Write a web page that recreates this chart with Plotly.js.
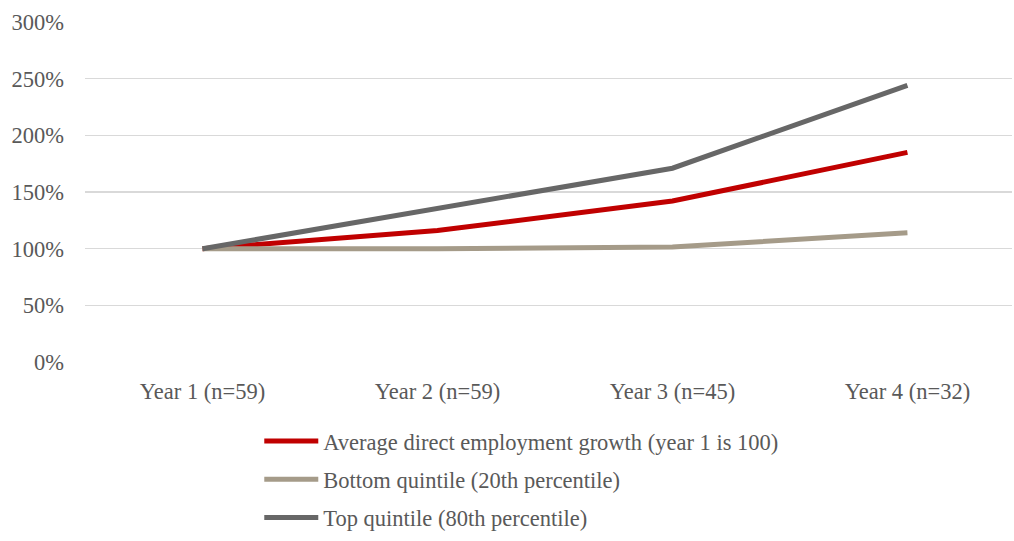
<!DOCTYPE html>
<html>
<head>
<meta charset="utf-8">
<script src="https://cdn.plot.ly/plotly-3.0.1.min.js"></script>
<style>html,body{margin:0;padding:0;background:#fff;}#chart{width:1014px;height:541px;}</style>
</head>
<body>
<div id="chart"></div>
<script>
const categories = ["Year 1 (n=59)", "Year 2 (n=59)", "Year 3 (n=45)", "Year 4 (n=32)"];
const averageGrowth = [1.00, 1.16, 1.42, 1.85];
const bottomQuintile = [1.00, 1.00, 1.015, 1.14];
const topQuintile = [1.00, 1.36, 1.71, 2.44];
const seriesNames = [
  "Average direct employment growth (year 1 is 100)",
  "Bottom quintile (20th percentile)",
  "Top quintile (80th percentile)"
];
const yTicks = [0, 0.5, 1, 1.5, 2, 2.5, 3];
const yTickLabels = ["0%", "50%", "100%", "150%", "200%", "250%", "300%"];

const xIdx = categories.map((_, i) => i);
const font = "Liberation Serif, Times New Roman, serif";
const textColor = "#595959";

const traces = [
  {x: xIdx, y: averageGrowth, name: seriesNames[0], legendgroup: "a", mode: "lines", line: {color: "#C00000", width: 5}},
  {x: xIdx, y: bottomQuintile, name: seriesNames[1], legendgroup: "b", mode: "lines", line: {color: "#A59B89", width: 5}},
  {x: xIdx, y: topQuintile, name: seriesNames[2], legendgroup: "c", mode: "lines", line: {color: "#676767", width: 5}}
];

const layout = {
  width: 1014, height: 541,
  margin: {l: 85, r: 2, t: 22, b: 179},
  paper_bgcolor: "#fff", plot_bgcolor: "#fff",
  font: {family: font, size: 22.5, color: textColor},
  showlegend: true,
  legend: {x: 0.188, y: -0.17, xanchor: "left", yanchor: "top", orientation: "v",
           font: {family: font, size: 22.5, color: textColor}, itemwidth: 54, tracegroupgap: 6,
           traceorder: "grouped"},
  xaxis: {
    range: [-0.5, 3.445], tickvals: xIdx, ticktext: categories,
    showgrid: false, zeroline: false, showline: false, ticks: "",
    ticklabelstandoff: 13, fixedrange: true
  },
  yaxis: {
    range: [0, 3.0], tickvals: yTicks, ticktext: yTickLabels,
    showgrid: true, gridcolor: "#D9D9D9", gridwidth: 1.6,
    zeroline: false, showline: false, ticks: "",
    ticklabelstandoff: 20, fixedrange: true
  }
};

Plotly.newPlot("chart", traces, layout, {displayModeBar: false, staticPlot: true});
</script>
</body>
</html>
